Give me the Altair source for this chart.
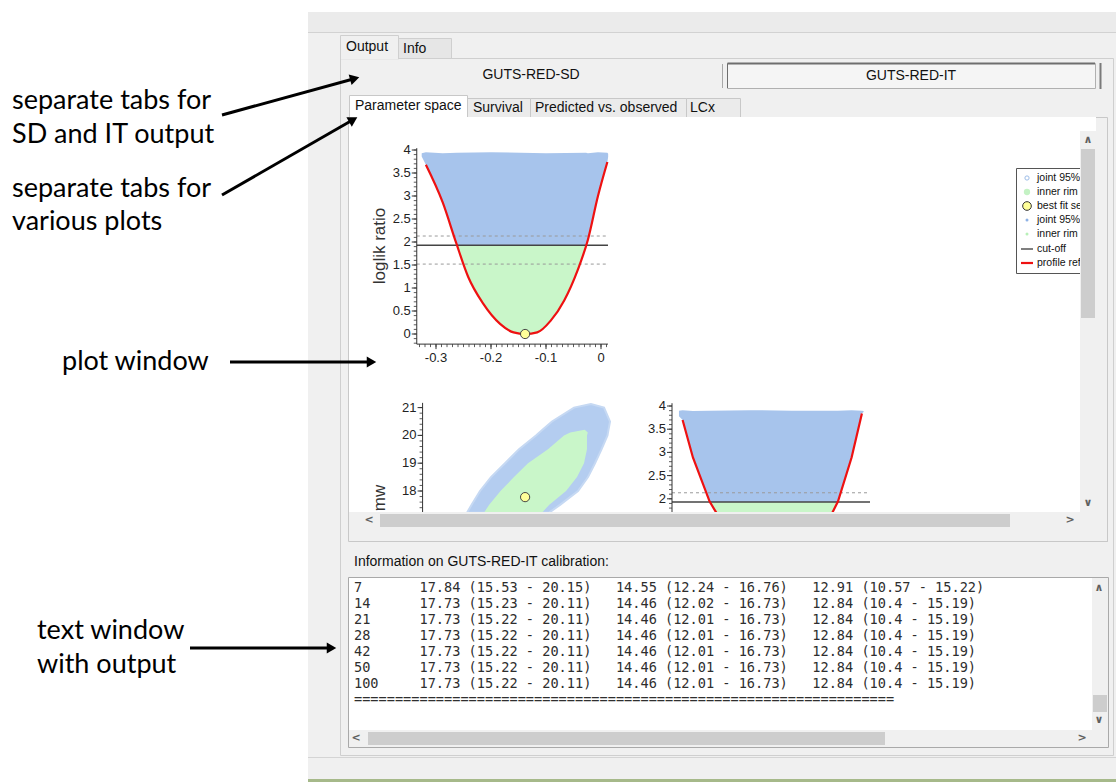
import altair as alt
import pandas as pd

W, H = 1116, 782
NB = "\u00a0"

# ================= values =================
# --- top-left panel: loglik ratio profile over the first parameter
p1_profile_x = [-0.3184, -0.2878, -0.2633, -0.2416, -0.2142, -0.1835, -0.1589, -0.1375,
                -0.1160, -0.0914, -0.0669, -0.0424, -0.0238, -0.0055, 0.0116]
p1_profile_y = [3.68, 2.86, 1.98, 1.245, 0.66, 0.22, 0.035, 0.0,
                0.035, 0.29, 0.73, 1.39, 2.05, 3.00, 3.74]
p1_cloud_x = [-0.326, -0.3184, -0.2878, -0.2618, -0.20, -0.10, -0.0272, -0.0238, -0.0055, 0.0116, 0.013]
p1_cloud_lo = [3.86, 3.68, 2.86, 1.93, 1.93, 1.93, 1.93, 2.05, 3.00, 3.74, 3.85]
p1_cloud_hi = [3.93, 3.95, 3.93, 3.94, 3.95, 3.93, 3.94, 3.93, 3.95, 3.94, 3.92]
p1_rim_x = [-0.2618, -0.2416, -0.2142, -0.1835, -0.1589, -0.1375, -0.1160, -0.0914, -0.0669, -0.0424, -0.0272]
p1_rim_lo = [1.93, 1.245, 0.66, 0.22, 0.035, 0.0, 0.035, 0.29, 0.73, 1.39, 1.93]
cutoff = 1.93
cutoff_band = [2.13, 1.52]
best_par, best_mw = -0.138, 17.78
p1_xlim = [-0.335, 0.0127]
p1_ylim = [-0.22, 4.04]
p1_x_ticks = [-0.3, -0.2, -0.1, 0.0]
p1_x_labels = ["-0.3", "-0.2", "-0.1", "0"]
p1_y_ticks = [0, 0.5, 1, 1.5, 2, 2.5, 3, 3.5, 4]
p1_y_labels = ["0", "0.5", "1", "1.5", "2", "2.5", "3", "3.5", "4"]

# --- bottom-left panel: joint region, first parameter vs mw
p2_mw = [21.13, 21.0, 20.5, 20.2, 20.0, 19.5, 19.0, 18.5, 18.0, 17.5, 17.22]
p2_out_left = [-0.0182, -0.0491, -0.0891, -0.1064, -0.1182, -0.1491, -0.1745, -0.2000, -0.2200, -0.2355, -0.2436]
p2_out_right = [-0.0182, 0.0055, 0.0164, 0.0136, 0.0118, 0.0009, -0.0109, -0.0236, -0.0418, -0.0745, -0.0945]
p2_in_mw = [20.2, 20.1, 20.0, 19.5, 19.0, 18.5, 18.0, 17.5, 17.22]
p2_in_left = [-0.0296, -0.0560, -0.0673, -0.0964, -0.1327, -0.1582, -0.1827, -0.2036, -0.2127]
p2_in_right = [-0.0296, -0.0240, -0.0255, -0.0255, -0.0309, -0.0436, -0.0636, -0.0945, -0.1073]
p2_xaxis = -0.3244
p2_ylim = [17.0, 21.17]
p2_y_ticks = [17, 18, 19, 20, 21]
p2_y_labels = ["17", "18", "19", "20", "21"]

# --- bottom-right panel: loglik ratio profile over mw
p3_left_x = [14.58, 14.95, 15.55, 15.80]
p3_left_y = [3.70, 2.89, 1.94, 1.69]
p3_right_x = [21.01, 20.64, 20.15, 19.94]
p3_right_y = [3.84, 2.89, 1.94, 1.69]
p3_cloud_x = [14.45, 14.58, 14.95, 15.56, 17.0, 18.5, 20.14, 20.64, 21.01, 21.07]
p3_cloud_lo = [3.78, 3.70, 2.89, 1.93, 1.93, 1.93, 1.93, 2.89, 3.84, 3.87]
p3_cloud_hi = [3.90, 3.91, 3.89, 3.90, 3.91, 3.90, 3.90, 3.91, 3.90, 3.89]
p3_rim_x = [15.56, 15.82, 19.92, 20.14]
p3_rim_lo = [1.93, 1.64, 1.64, 1.93]
p3_xlim = [14.2, 21.3]
p3_ylim = [1.6, 4.06]
p3_y_ticks = [1.5, 2, 2.5, 3, 3.5, 4]
p3_y_labels = ["1.5", "2", "2.5", "3", "3.5", "4"]

# --- legend
legend_labels = ["joint 95% CI", "inner rim", "best fit set", "joint 95% CI",
                 "inner rim", "cut-off", "profile refined"]

# --- text window output
table_times = ["7", "14", "21", "28", "42", "50", "100"]
table_c1 = ["17.84 (15.53 - 20.15)", "17.73 (15.23 - 20.11)"] + ["17.73 (15.22 - 20.11)"] * 5
table_c2 = ["14.55 (12.24 - 16.76)", "14.46 (12.02 - 16.73)"] + ["14.46 (12.01 - 16.73)"] * 5
table_c3 = ["12.91 (10.57 - 15.22)"] + ["12.84 (10.4 - 15.19)"] * 6
sep_line = "=" * 66

# ================= styles =================
BLUE = "#a7c4ec"
BLUE_RING = "#b4cdf0"
GREEN = "#c9f6c9"
RED = "#ee1111"
YELLOW = "#ffff99"
AXC = "#333333"
GUI_FONT = "Liberation Sans"
GUI_SIZE = 14
TICK_FONT = "Liberation Sans"
ANN_FONT = "Lato"
MONO = "DejaVu Sans Mono"

SX = alt.Scale(domain=[0, W], range=[0, W], zero=False, nice=False)
SY = alt.Scale(domain=[0, H], range=[0, H], zero=False, nice=False)
P1X = alt.Scale(domain=[-0.3, 0.0], range=[436, 601], zero=False, nice=False)
P1Y = alt.Scale(domain=[0, 4], range=[334, 150], zero=False, nice=False)
P2Y = alt.Scale(domain=[18, 21], range=[491, 407.6], zero=False, nice=False)
P3X = alt.Scale(domain=[14.2, 21.3], range=[672, 870], zero=False, nice=False)
P3Y = alt.Scale(domain=[2, 4], range=[498.8, 406], zero=False, nice=False)


def chart(rows, mark, xs, ys, x="x", y="y", x2=None, y2=None, extra=None, **props):
    base = alt.Chart(pd.DataFrame(rows))
    m = getattr(base, "mark_" + mark)(**props)
    enc = {"x": alt.X(f"{x}:Q", scale=xs, axis=None),
           "y": alt.Y(f"{y}:Q", scale=ys, axis=None)}
    if x2:
        enc["x2"] = alt.X2(f"{x2}:Q")
    if y2:
        enc["y2"] = alt.Y2(f"{y2}:Q")
    if extra:
        enc.update(extra)
    return m.encode(**enc)


def rects(rows):
    df = [dict(x1=r[0], y1=r[1], x2=r[2], y2=r[3], fill=r[4], stroke=r[5]) for r in rows]
    return chart(df, "rect", SX, SY, x="x1", y="y1", x2="x2", y2="y2",
                 extra={"fill": alt.Fill("fill:N", scale=None),
                        "stroke": alt.Stroke("stroke:N", scale=None)},
                 strokeWidth=1)


def lines(rows):
    df = [dict(x1=r[0], y1=r[1], x2=r[2], y2=r[3], c=r[4], w=r[5]) for r in rows]
    return chart(df, "rule", SX, SY, x="x1", y="y1", x2="x2", y2="y2",
                 extra={"color": alt.Color("c:N", scale=None),
                        "strokeWidth": alt.StrokeWidth("w:Q", scale=None)})


def texts(rows, **props):
    df = [dict(x=r[0], y=r[1], t=r[2]) for r in rows]
    return chart(df, "text", SX, SY, extra={"text": alt.Text("t:N")}, **props)


def y_axis(xs, ys, ax, ylim, majors, labels, minors):
    out = [chart([dict(x=ax, y=ylim[0], y2=ylim[1])], "rule", xs, ys, y2="y2", color=AXC, strokeWidth=1),
           chart([dict(x=ax, x2=ax, y=v) for v in majors], "rule", xs, ys, x2="x2",
                 xOffset=-5, color=AXC, strokeWidth=1),
           chart([dict(x=ax, x2=ax, y=v) for v in minors], "rule", xs, ys, x2="x2",
                 xOffset=-3, color=AXC, strokeWidth=0.8),
           chart([dict(x=ax, y=v, t=l) for v, l in zip(majors, labels)], "text", xs, ys,
                 extra={"text": alt.Text("t:N")}, align="right", baseline="middle", dx=-6,
                 font=TICK_FONT, fontSize=13, color="#222222")]
    return out


layers = []

# ---------------- GUI chrome ----------------
layers.append(rects([
    (308, 12, 1116, 782, "#f0f0f0", "transparent"),
    (308, 12, 1116, 32, "#ebebeb", "transparent"),
    (340.5, 58.5, 1113.5, 755.5, "#f0f0f0", "#cfcfcf"),
    (398.5, 38.5, 451.5, 58.5, "#e6e6e6", "#cfcfcf"),
    (340.5, 35.5, 398.5, 59, "#f0f0f0", "#cfcfcf"),
    (727.5, 63.5, 1095.5, 88.5, "#f5f5f5", "#b0b0b0"),
    (348.5, 117.5, 1107.5, 541.5, "#f0f0f0", "#c8c8c8"),
    (467.5, 98.5, 530.5, 117.5, "#ebebeb", "#c8c8c8"),
    (530.5, 98.5, 686.5, 117.5, "#ebebeb", "#c8c8c8"),
    (686.5, 98.5, 740.5, 117.5, "#ebebeb", "#c8c8c8"),
    (349.5, 95.5, 467.5, 118.5, "#ffffff", "#c8c8c8"),
    (349, 117, 1096, 512, "#ffffff", "transparent"),
    (348.5, 577.5, 1108.5, 747.5, "#ffffff", "#a9a9a9"),
]))
layers.append(lines([
    (308, 32.5, 1116, 32.5, "#d2d2d2", 1),
    (341, 58.5, 398, 58.5, "#f0f0f0", 2),
    (350, 117.5, 467, 117.5, "#ffffff", 2),
    (727.5, 63.5, 1095, 63.5, "#6e6e6e", 2),
    (727.5, 63.5, 727.5, 88, "#6e6e6e", 1),
    (1100.5, 63, 1100.5, 89, "#7a7a7a", 2),
    (722.5, 64, 722.5, 88, "#a8a8a8", 1),
    (308, 757.5, 1116, 757.5, "#d4d4d4", 1),
    (308, 780.5, 1116, 780.5, "#a6b98a", 3),
]))
layers.append(texts([(346, 47, "Output"), (403, 49, "Info"),
                     (355, 106, "Parameter space"), (473, 108, "Survival"),
                     (535, 108, "Predicted vs. observed"), (690, 108, "LCx"),
                     (354, 562, "Information on GUTS-RED-IT calibration:")],
                    align="left", baseline="middle", font=GUI_FONT, fontSize=GUI_SIZE, color="#111111"))
layers.append(texts([(531, 75, "GUTS-RED-SD"), (911, 76, "GUTS-RED-IT")],
                    align="center", baseline="middle", font=GUI_FONT, fontSize=GUI_SIZE, color="#111111"))

# ---------------- panel 1 ----------------
layers.append(chart(dict(x=p1_cloud_x, lo=p1_cloud_lo, hi=p1_cloud_hi), "area", P1X, P1Y,
                    y="lo", y2="hi", color=BLUE, opacity=1))
layers.append(chart(dict(x=p1_rim_x, lo=p1_rim_lo, hi=[cutoff] * len(p1_rim_x)), "area", P1X, P1Y,
                    y="lo", y2="hi", color=GREEN, opacity=1))
layers.append(chart([dict(x=p1_xlim[0], x2=p1_xlim[1], y=v) for v in cutoff_band], "rule", P1X, P1Y,
                    x2="x2", color="#9a9a9a", strokeDash=[3, 3], strokeWidth=1))
layers.append(chart([dict(x=p1_xlim[0], x2=p1_xlim[1], y=cutoff)], "rule", P1X, P1Y,
                    x2="x2", color="#444444", strokeWidth=1.5))
layers.append(chart(dict(x=p1_profile_x, y=p1_profile_y), "line", P1X, P1Y,
                    color=RED, strokeWidth=2.2, interpolate="monotone"))
layers.append(chart([dict(x=best_par, y=0.0)], "circle", P1X, P1Y,
                    size=85, fill=YELLOW, stroke="#444444", strokeWidth=1, opacity=1))
layers += y_axis(P1X, P1Y, p1_xlim[0], p1_ylim, p1_y_ticks, p1_y_labels,
                 [round(-0.2 + 0.1 * i, 2) for i in range(43)])
layers.append(chart([dict(x=p1_xlim[0], x2=p1_xlim[1], y=p1_ylim[0])], "rule", P1X, P1Y,
                    x2="x2", color=AXC, strokeWidth=1))
layers.append(chart([dict(x=v, y=p1_ylim[0], y2=p1_ylim[0]) for v in p1_x_ticks], "rule", P1X, P1Y,
                    y2="y2", y2Offset=5, color=AXC, strokeWidth=1))
layers.append(chart([dict(x=round(-0.33 + 0.01 * i, 3), y=p1_ylim[0], y2=p1_ylim[0]) for i in range(35)],
                    "rule", P1X, P1Y, y2="y2", y2Offset=3, color=AXC, strokeWidth=0.8))
layers.append(chart([dict(x=v, y=p1_ylim[0], t=l) for v, l in zip(p1_x_ticks, p1_x_labels)], "text",
                    P1X, P1Y, extra={"text": alt.Text("t:N")}, align="center", baseline="middle",
                    dy=14, font=TICK_FONT, fontSize=13, color="#222222"))
layers.append(texts([(380, 246, "loglik ratio")], align="center", baseline="middle", angle=270,
                    font=TICK_FONT, fontSize=17, color="#333333"))

# ---------------- panel 2 ----------------
layers.append(chart(dict(y=p2_mw, l=p2_out_left, r=p2_out_right), "area", P1X, P2Y,
                    x="l", x2="r", orient="horizontal", color=BLUE_RING, opacity=1,
                    stroke="#c6d9f3", strokeWidth=2))
layers.append(chart(dict(y=p2_in_mw, l=p2_in_left, r=p2_in_right), "area", P1X, P2Y,
                    x="l", x2="r", orient="horizontal", color=GREEN, opacity=1))
layers.append(chart([dict(x=best_par, y=best_mw)], "circle", P1X, P2Y,
                    size=85, fill=YELLOW, stroke="#444444", strokeWidth=1, opacity=1))
layers += y_axis(P1X, P2Y, p2_xaxis, p2_ylim, p2_y_ticks, p2_y_labels,
                 [round(17 + 0.2 * i, 2) for i in range(21)])
layers.append(texts([(380, 498, "mw")], align="center", baseline="middle", angle=270,
                    font=TICK_FONT, fontSize=17, color="#333333"))

# ---------------- panel 3 ----------------
layers.append(chart(dict(x=p3_cloud_x, lo=p3_cloud_lo, hi=p3_cloud_hi), "area", P3X, P3Y,
                    y="lo", y2="hi", color=BLUE, opacity=1))
layers.append(chart(dict(x=p3_rim_x, lo=p3_rim_lo, hi=[cutoff] * len(p3_rim_x)), "area", P3X, P3Y,
                    y="lo", y2="hi", color=GREEN, opacity=1))
layers.append(chart([dict(x=p3_xlim[0], x2=p3_xlim[1], y=cutoff_band[0])], "rule", P3X, P3Y,
                    x2="x2", color="#9a9a9a", strokeDash=[3, 3], strokeWidth=1))
layers.append(chart([dict(x=p3_xlim[0], x2=p3_xlim[1], y=cutoff)], "rule", P3X, P3Y,
                    x2="x2", color="#444444", strokeWidth=1.5))
layers.append(chart([dict(x=a, y=b, s="L") for a, b in zip(p3_left_x, p3_left_y)] +
                    [dict(x=a, y=b, s="R") for a, b in zip(p3_right_x, p3_right_y)], "line", P3X, P3Y,
                    extra={"detail": alt.Detail("s:N"), "order": alt.Order("y:Q", sort="descending")},
                    color=RED, strokeWidth=2.2))
layers += y_axis(P3X, P3Y, p3_xlim[0], p3_ylim, p3_y_ticks, p3_y_labels,
                 [round(1.6 + 0.1 * i, 2) for i in range(25)])

# ---------------- legend ----------------
leg_y = [178, 192, 206, 220, 234, 249, 263]
layers.append(rects([(1016.5, 168.5, 1100, 273.5, "#ffffff", "#555555")]))
layers.append(chart([dict(x=1027, y=leg_y[0])], "point", SX, SY, size=18, filled=False,
                    stroke="#9dbde8", strokeWidth=1, opacity=1))
layers.append(chart([dict(x=1027, y=leg_y[1])], "circle", SX, SY, size=40, color="#c4f2c4", opacity=1))
layers.append(chart([dict(x=1027, y=leg_y[2])], "circle", SX, SY, size=75, fill=YELLOW,
                    stroke="#333333", strokeWidth=1, opacity=1))
layers.append(chart([dict(x=1027, y=leg_y[3])], "circle", SX, SY, size=9, color="#8eb2e6", opacity=1))
layers.append(chart([dict(x=1027, y=leg_y[4])], "circle", SX, SY, size=9, color="#b8f0b8", opacity=1))
layers.append(lines([(1021, leg_y[5], 1033, leg_y[5], "#555555", 1.5),
                     (1021, leg_y[6], 1033, leg_y[6], RED, 2.2)]))
layers.append(texts([(1037, yy, t) for yy, t in zip(leg_y, legend_labels)], align="left",
                    baseline="middle", font=TICK_FONT, fontSize=10.5, color="#111111"))

# ---------------- plot-window scrollbars (cover overflow) ----------------
layers.append(rects([
    (1080, 131, 1096, 512, "#f0f0f0", "transparent"),
    (1081, 149, 1095, 318, "#cdcdcd", "transparent"),
    (1096, 118, 1107, 541, "#f0f0f0", "transparent"),
    (349, 512, 1096, 528, "#f0f0f0", "transparent"),
    (380, 514, 1010, 527, "#cdcdcd", "transparent"),
    (349, 528, 1107, 541, "#f0f0f0", "transparent"),
]))
layers.append(lines([(1107.5, 118, 1107.5, 541.5, "#c8c8c8", 1),
                     (349, 541.5, 1107.5, 541.5, "#c8c8c8", 1)]))
# text window scrollbars
layers.append(rects([
    (1092, 578, 1108, 747, "#f0f0f0", "transparent"),
    (1093, 695, 1107, 712, "#cdcdcd", "transparent"),
    (349, 730, 1092, 747, "#f0f0f0", "transparent"),
    (368, 732, 885, 745, "#cdcdcd", "transparent"),
]))
layers.append(texts([(369, 520, "<"), (1070, 520, ">"), (356, 738, "<"), (1082, 738, ">")],
                    align="center", baseline="middle", font="DejaVu Sans", fontSize=11,
                    fontWeight="bold", color="#606060"))
layers.append(texts([(1088, 140, "\u2227"), (1099, 588, "\u2227")], align="center", baseline="middle",
                    font="DejaVu Sans", fontSize=11, fontWeight="bold", color="#606060"))
layers.append(texts([(1088, 503, "\u2228"), (1099, 720, "\u2228")], align="center", baseline="middle",
                    font="DejaVu Sans", fontSize=11, fontWeight="bold", color="#606060"))

# ---------------- text window content ----------------
rows_txt = []
for t, a, b, c in zip(table_times, table_c1, table_c2, table_c3):
    rows_txt.append((t.ljust(8) + a.ljust(24) + b.ljust(24) + c).replace(" ", NB))
rows_txt.append(sep_line)
layers.append(texts([(354, 588 + 16 * i, s) for i, s in enumerate(rows_txt)], align="left",
                    baseline="middle", font=MONO, fontSize=13.6, color="#2e2e2e"))

# ---------------- annotations ----------------
layers.append(texts([(12, 109, "separate tabs for"), (12, 143, "SD and IT output"),
                     (12, 197, "separate tabs for"), (12, 230, "various plots"),
                     (62, 370, "plot window"), (37, 639, "text window"), (37, 673, "with output")],
                    align="left", baseline="alphabetic", font=ANN_FONT, fontSize=27, color="#000000"))
layers.append(lines([(222, 115, 355, 78.5, "#000000", 3),
                     (222, 195, 353, 119.7, "#000000", 3),
                     (230, 362, 372, 362, "#000000", 3),
                     (190, 648, 332, 648, "#000000", 3)]))
layers.append(chart([dict(x=354.7, y=78.5, a=344.6), dict(x=353.2, y=119.7, a=330.2),
                     dict(x=371.5, y=362, a=0), dict(x=331.5, y=648, a=0)], "point", SX, SY,
                    extra={"angle": alt.Angle("a:Q", scale=None)}, shape="triangle-right",
                    filled=True, size=120, color="#000000", opacity=1))

chart_all = alt.layer(*layers).resolve_scale(x="independent", y="independent").properties(
    width=W, height=H, padding=0, autosize="none", background="white"
).configure_view(stroke=None)

chart_all.save("out.html", embed_options={"renderer": "svg", "actions": False})
